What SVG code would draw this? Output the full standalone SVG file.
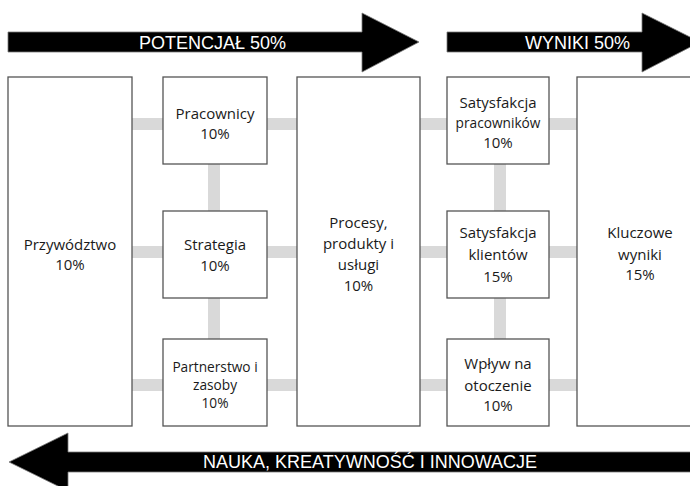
<svg xmlns="http://www.w3.org/2000/svg" width="690" height="486" viewBox="0 0 690 486">
  <style>
    .box { fill: #ffffff; stroke: #555555; stroke-width: 1.3; }
    .link { stroke: #d9d9d9; stroke-width: 12; fill: none; }
    .arrow { fill: #000000; stroke: #7a7a7a; stroke-width: 0.8; }
    .band { font-family: "Liberation Sans", Arial, sans-serif; font-size: 18px; fill: #ffffff; }
    .lbl { font-family: "Open Sans", "Noto Sans", sans-serif; font-size: 15px; fill: #1a1a1a; text-anchor: middle; }
    .sm { font-size: 13.7px; }
  </style>

  <rect width="690" height="486" fill="#ffffff"/>

  <!-- band arrows -->
  <g id="arrow-potencjal">
    <polygon class="arrow" points="8,32 362,32 362,13 419,42 362,72 362,52 8,52"/>
    <text class="band" x="139" y="49">POTENCJAŁ 50%</text>
  </g>
  <g id="arrow-wyniki">
    <polygon class="arrow" points="447,32 642,32 642,13 700,42 642,72 642,52 447,52"/>
    <text class="band" x="525" y="49">WYNIKI 50%</text>
  </g>
  <g id="arrow-nauka">
    <polygon class="arrow" points="700,452 68,452 68,433 9,462 68,491 68,472 700,472"/>
    <text class="band" x="203" y="468">NAUKA, KREATYWNOŚĆ I INNOWACJE</text>
  </g>

  <!-- connectors -->
  <g id="connectors">
    <line class="link" x1="132" y1="124" x2="577" y2="124"/>
    <line class="link" x1="132" y1="252" x2="577" y2="252"/>
    <line class="link" x1="132" y1="385" x2="577" y2="385"/>
    <line class="link" x1="214" y1="164" x2="214" y2="211"/>
    <line class="link" x1="214" y1="298" x2="214" y2="339"/>
    <line class="link" x1="500" y1="164" x2="500" y2="211"/>
    <line class="link" x1="500" y1="298" x2="500" y2="339"/>
  </g>

  <!-- nodes -->
  <g id="przywodztwo">
    <rect class="box" x="8" y="77" width="124" height="349"/>
    <text class="lbl" x="70" y="250">Przywództwo</text>
    <text class="lbl" x="70" y="270">10%</text>
  </g>
  <g id="pracownicy">
    <rect class="box" x="163" y="77" width="104" height="87"/>
    <text class="lbl" x="215" y="119">Pracownicy</text>
    <text class="lbl" x="215" y="139">10%</text>
  </g>
  <g id="strategia">
    <rect class="box" x="163" y="211" width="104" height="87"/>
    <text class="lbl" x="215" y="250">Strategia</text>
    <text class="lbl" x="215" y="271">10%</text>
  </g>
  <g id="partnerstwo">
    <rect class="box" x="163" y="339" width="104" height="87"/>
    <text class="lbl sm" x="215" y="372">Partnerstwo i</text>
    <text class="lbl sm" x="215" y="390">zasoby</text>
    <text class="lbl sm" x="215" y="408">10%</text>
  </g>
  <g id="procesy">
    <rect class="box" x="297" y="77" width="123" height="349"/>
    <text class="lbl" x="358.5" y="228">Procesy,</text>
    <text class="lbl" x="358.5" y="249">produkty i</text>
    <text class="lbl" x="358.5" y="270">usługi</text>
    <text class="lbl" x="358.5" y="291">10%</text>
  </g>
  <g id="satysfakcja-pracownikow">
    <rect class="box" x="447" y="77" width="102" height="87"/>
    <text class="lbl" x="498" y="108">Satysfakcja</text>
    <text class="lbl sm" x="498" y="128">pracowników</text>
    <text class="lbl" x="498" y="148">10%</text>
  </g>
  <g id="satysfakcja-klientow">
    <rect class="box" x="447" y="211" width="102" height="87"/>
    <text class="lbl" x="498" y="238">Satysfakcja</text>
    <text class="lbl" x="498" y="260">klientów</text>
    <text class="lbl" x="498" y="282">15%</text>
  </g>
  <g id="wplyw">
    <rect class="box" x="447" y="339" width="102" height="87"/>
    <text class="lbl" x="498" y="369">Wpływ na</text>
    <text class="lbl" x="498" y="391">otoczenie</text>
    <text class="lbl" x="498" y="411">10%</text>
  </g>
  <g id="kluczowe-wyniki">
    <rect class="box" x="577" y="77" width="126" height="349"/>
    <text class="lbl" x="640" y="238">Kluczowe</text>
    <text class="lbl" x="640" y="260">wyniki</text>
    <text class="lbl" x="640" y="280">15%</text>
  </g>
</svg>
